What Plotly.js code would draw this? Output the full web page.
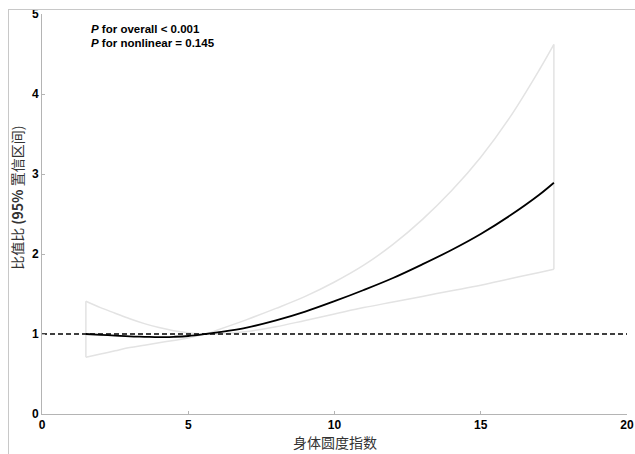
<!DOCTYPE html>
<html>
<head>
<meta charset="utf-8">
<script src="https://cdn.plot.ly/plotly-3.0.1.min.js"></script>
<style>
html,body{margin:0;padding:0;background:#fff;}
#wrap{position:relative;width:635px;height:454px;}
#frame{position:absolute;left:8px;top:9px;width:627px;height:445px;border-top:1px solid #c8c8c8;border-left:1px solid #c8c8c8;pointer-events:none;}
#chart{position:absolute;left:0;top:0;width:635px;height:454px;}
</style>
</head>
<body>
<div id="wrap"><div id="chart"></div><div id="frame"></div></div>
<script>
const xVals   = [1.5, 2, 2.5, 3, 3.5, 4, 4.5, 5, 5.6, 6, 7, 8, 9, 10, 11, 12, 13, 14, 15, 16, 17, 17.5];
const orVals  = [1.00, 0.99, 0.98, 0.97, 0.965, 0.96, 0.965, 0.975, 1.00, 1.02, 1.08, 1.17, 1.28, 1.41, 1.55, 1.70, 1.87, 2.05, 2.25, 2.48, 2.74, 2.89];
const upper   = [1.41, 1.33, 1.26, 1.19, 1.13, 1.08, 1.04, 1.015, 1.00, 1.05, 1.18, 1.32, 1.47, 1.65, 1.86, 2.12, 2.43, 2.79, 3.21, 3.71, 4.30, 4.62];
const lower   = [0.71, 0.75, 0.79, 0.83, 0.86, 0.89, 0.92, 0.95, 1.00, 1.00, 1.03, 1.09, 1.17, 1.25, 1.33, 1.40, 1.47, 1.54, 1.61, 1.69, 1.77, 1.81];
const refX    = [0, 20];
const refY    = [1, 1];
const xTicks  = [0, 5, 10, 15, 20];
const yTicks  = [0, 1, 2, 3, 4, 5];
const xTitle  = '身体圆度指数';
const yTitle  = '比值比 <b>(95%</b> 置信区间)';
const note1   = '<b><i>P</i> for overall &lt; 0.001</b>';
const note2   = '<b><i>P</i> for nonlinear = 0.145</b>';

const n = xVals.length;
const ciColor = '#e3e3e3';
const latin = '"Liberation Sans", Arial, sans-serif';
const tickFont = {family: latin, size: 12, color: '#000', weight: 'bold'};

const traces = [
  {x: xVals, y: upper, mode: 'lines', line: {color: ciColor, width: 1.5, shape: 'spline'}, hoverinfo: 'skip', showlegend: false},
  {x: xVals, y: lower, mode: 'lines', line: {color: ciColor, width: 1.5, shape: 'spline'}, hoverinfo: 'skip', showlegend: false},
  {x: [xVals[0], xVals[0]], y: [lower[0], upper[0]], mode: 'lines', line: {color: ciColor, width: 1.5}, hoverinfo: 'skip', showlegend: false},
  {x: [xVals[n-1], xVals[n-1]], y: [lower[n-1], upper[n-1]], mode: 'lines', line: {color: ciColor, width: 1.5}, hoverinfo: 'skip', showlegend: false},
  {x: refX, y: refY, mode: 'lines', line: {color: '#000', width: 1.5, dash: '5px,3px'}, showlegend: false},
  {x: xVals, y: orVals, mode: 'lines', line: {color: '#000', width: 1.8, shape: 'spline'}, showlegend: false}
];

const layout = {
  width: 635, height: 454,
  margin: {l: 42, r: 8, t: 14, b: 40},
  paper_bgcolor: '#fff', plot_bgcolor: '#fff',
  showlegend: false,
  xaxis: {
    range: [0, 20], tickvals: xTicks, ticktext: xTicks.map(String),
    showgrid: false, zeroline: false, showline: true, linecolor: '#b4b4b4', linewidth: 1,
    ticks: 'inside', ticklen: 3, tickcolor: '#b4b4b4', tickfont: tickFont
  },
  yaxis: {
    range: [0, 5], tickvals: yTicks, ticktext: yTicks.map(String),
    showgrid: false, zeroline: false, showline: true, linecolor: '#b4b4b4', linewidth: 1,
    ticks: 'inside', ticklen: 3, tickcolor: '#b4b4b4', tickfont: tickFont
  },
  annotations: [
    {xref: 'paper', yref: 'paper', x: (335-42)/585, y: (414-442)/400, xanchor: 'center', yanchor: 'middle',
     text: xTitle, showarrow: false, font: {family: '"Noto Sans CJK SC", sans-serif', size: 14, color: '#333'}},
    {xref: 'paper', yref: 'paper', x: -0.043, y: 0.54, xanchor: 'center', yanchor: 'middle', textangle: -90,
     text: yTitle, showarrow: false, font: {family: '"Noto Sans CJK SC", "Liberation Sans", sans-serif', size: 14, color: '#333'}},
    {xref: 'paper', yref: 'paper', x: (89-42)/585, y: (414-29)/400, xanchor: 'left', yanchor: 'middle',
     text: note1, showarrow: false, font: {family: latin, size: 11.5, color: '#000'}},
    {xref: 'paper', yref: 'paper', x: (89-42)/585, y: (414-43)/400, xanchor: 'left', yanchor: 'middle',
     text: note2, showarrow: false, font: {family: latin, size: 11.5, color: '#000'}}
  ]
};

Plotly.newPlot('chart', traces, layout, {displayModeBar: false, staticPlot: true});
</script>
</body>
</html>
